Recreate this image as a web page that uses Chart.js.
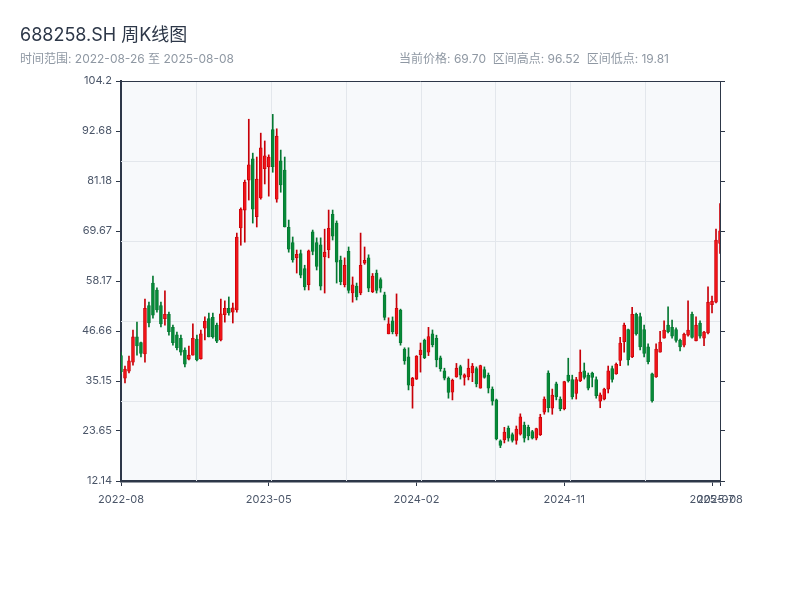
<!DOCTYPE html>
<html>
<head>
<meta charset="utf-8">
<script src="https://cdn.jsdelivr.net/npm/chart.js@4.4.1/dist/chart.umd.min.js"></script>
<style>
  html, body { margin: 0; padding: 0; background: #fff; }
</style>
</head>
<body>
<canvas id="kline" width="800" height="600"></canvas>

<script>
// weekly bars, holiday weeks with no trading left out
const dates = [
  '2022-08-26','2022-09-02','2022-09-09','2022-09-16','2022-09-23','2022-09-30','2022-10-14','2022-10-21','2022-10-28',
  '2022-11-04','2022-11-11','2022-11-18','2022-11-25','2022-12-02','2022-12-09','2022-12-16','2022-12-23','2022-12-30',
  '2023-01-06','2023-01-13','2023-01-20','2023-02-03','2023-02-10','2023-02-17','2023-02-24',
  '2023-03-03','2023-03-10','2023-03-17','2023-03-24','2023-03-31','2023-04-07','2023-04-14','2023-04-21','2023-04-28',
  '2023-05-05','2023-05-12','2023-05-19','2023-05-26','2023-06-02','2023-06-09','2023-06-16','2023-06-23','2023-06-30',
  '2023-07-07','2023-07-14','2023-07-21','2023-07-28','2023-08-04','2023-08-11','2023-08-18','2023-08-25',
  '2023-09-01','2023-09-08','2023-09-15','2023-09-22','2023-09-29','2023-10-13','2023-10-20','2023-10-27',
  '2023-11-03','2023-11-10','2023-11-17','2023-11-24','2023-12-01','2023-12-08','2023-12-15','2023-12-22','2023-12-29',
  '2024-01-05','2024-01-12','2024-01-19','2024-01-26','2024-02-02','2024-02-09','2024-02-23',
  '2024-03-01','2024-03-08','2024-03-15','2024-03-22','2024-03-29','2024-04-05','2024-04-12','2024-04-19','2024-04-26',
  '2024-05-03','2024-05-10','2024-05-17','2024-05-24','2024-05-31','2024-06-07','2024-06-14','2024-06-21','2024-06-28',
  '2024-07-05','2024-07-12','2024-07-19','2024-07-26','2024-08-02','2024-08-09','2024-08-16','2024-08-23','2024-08-30',
  '2024-09-06','2024-09-13','2024-09-20','2024-09-27','2024-10-04','2024-10-11','2024-10-18','2024-10-25',
  '2024-11-01','2024-11-08','2024-11-15','2024-11-22','2024-11-29','2024-12-06','2024-12-13','2024-12-20','2024-12-27',
  '2025-01-03','2025-01-10','2025-01-17','2025-01-24','2025-01-31','2025-02-07','2025-02-14','2025-02-21','2025-02-28',
  '2025-03-07','2025-03-14','2025-03-21','2025-03-28','2025-04-04','2025-04-11','2025-04-18','2025-04-25',
  '2025-05-02','2025-05-09','2025-05-16','2025-05-23','2025-05-30','2025-06-06','2025-06-13','2025-06-20','2025-06-27',
  '2025-07-04','2025-07-11','2025-07-18','2025-07-25','2025-08-01','2025-08-08'
];

const opens = [
  41.0, 35.8, 37.4, 39.5, 45.3, 44.0, 41.4, 52.5, 57.7, 56.1,
  52.5, 49.5, 50.5, 47.5, 45.8, 45.0, 42.3, 40.2, 41.1, 44.8,
  40.3, 47.3, 49.5, 49.8, 48.0, 44.6, 50.4, 51.9, 51.0, 51.5,
  70.4, 74.5, 81.4, 86.3, 73.0, 77.3, 84.0, 84.4, 93.0, 77.0,
  85.8, 83.7, 70.5, 67.0, 63.5, 64.5, 61.0, 57.3, 69.5, 67.0,
  66.5, 63.7, 65.3, 73.5, 71.5, 63.0, 57.3, 65.0, 55.4, 57.0,
  55.4, 62.3, 63.5, 55.7, 60.0, 58.5, 55.0, 46.0, 49.0, 46.0,
  51.5, 42.5, 40.7, 34.0, 35.6, 41.2, 44.5, 41.8, 46.0, 45.0,
  40.5, 37.5, 35.8, 32.6, 36.1, 38.5, 36.0, 36.1, 37.0, 38.0,
  33.5, 37.8, 36.5, 33.3, 30.8, 21.4, 21.6, 24.3, 22.8, 21.5,
  22.9, 25.0, 24.5, 23.5, 22.0, 22.8, 28.0, 37.0, 28.9, 34.5,
  31.0, 28.8, 36.5, 35.5, 32.3, 35.2, 37.5, 36.5, 37.0, 35.5,
  30.5, 31.0, 33.3, 38.0, 36.8, 39.9, 44.2, 47.0, 40.7, 50.5,
  50.0, 47.0, 43.0, 36.8, 36.1, 41.8, 45.0, 48.0, 47.5, 47.0,
  44.5, 43.4, 45.7, 50.5, 44.4, 48.5, 45.0, 46.2, 52.7, 53.3,
  66.8
];
const highs = [
  41.8, 38.6, 40.9, 46.9, 48.7, 44.1, 54.0, 53.3, 59.3, 56.6,
  53.3, 55.9, 51.0, 48.0, 46.4, 45.7, 42.8, 43.2, 48.3, 45.7,
  46.9, 49.9, 50.8, 50.8, 48.5, 54.0, 53.6, 54.5, 53.1, 69.2,
  75.0, 81.4, 95.4, 87.6, 86.7, 92.2, 90.4, 87.2, 96.52, 93.2,
  88.3, 86.7, 72.2, 68.3, 65.3, 65.3, 61.8, 65.3, 69.9, 68.1,
  68.1, 70.1, 74.5, 74.5, 72.0, 63.9, 63.5, 66.0, 59.1, 57.7,
  69.2, 66.0, 64.2, 59.9, 60.7, 58.9, 55.6, 49.7, 49.9, 55.2,
  51.7, 42.8, 42.8, 36.0, 41.0, 43.9, 44.8, 47.5, 46.9, 45.7,
  40.9, 38.1, 36.1, 35.6, 39.2, 38.8, 36.8, 40.2, 39.2, 38.4,
  38.8, 38.4, 37.0, 33.8, 31.0, 21.6, 24.5, 24.8, 23.2, 24.8,
  27.6, 25.7, 25.0, 23.8, 24.3, 27.5, 31.5, 37.5, 33.3, 34.9,
  31.5, 35.1, 40.4, 36.5, 36.0, 42.3, 39.3, 37.0, 37.2, 36.1,
  32.4, 33.5, 38.6, 38.6, 39.3, 45.2, 48.5, 47.1, 52.1, 50.8,
  50.8, 48.0, 43.7, 37.0, 43.7, 46.6, 49.0, 52.2, 49.2, 47.4,
  44.8, 46.2, 53.6, 51.0, 49.9, 49.0, 46.6, 56.8, 54.7, 70.1,
  76.0
];
const lows = [
  36.8, 34.7, 37.0, 38.8, 41.1, 40.7, 39.5, 47.6, 49.6, 51.0,
  47.6, 48.0, 45.7, 43.4, 42.3, 41.1, 38.4, 40.0, 41.1, 39.8,
  40.2, 44.6, 45.3, 45.0, 44.0, 44.4, 48.7, 50.3, 48.5, 51.0,
  66.4, 67.1, 76.8, 71.5, 70.6, 77.0, 80.5, 77.7, 83.2, 76.3,
  78.6, 70.6, 64.8, 62.5, 60.0, 58.9, 56.1, 56.1, 64.2, 60.7,
  56.1, 55.4, 63.5, 67.6, 57.7, 57.3, 56.8, 55.4, 53.3, 53.8,
  55.0, 62.0, 55.7, 55.5, 55.4, 55.6, 49.2, 46.0, 46.0, 45.5,
  43.4, 39.0, 33.1, 28.9, 35.5, 37.2, 40.3, 41.0, 43.0, 38.4,
  37.4, 35.4, 31.2, 30.8, 36.0, 35.6, 34.2, 35.4, 35.0, 33.8,
  33.5, 35.8, 32.4, 29.6, 21.6, 19.81, 20.9, 21.3, 21.1, 20.6,
  22.7, 21.1, 21.6, 21.8, 21.6, 22.6, 27.5, 28.0, 27.5, 30.8,
  28.3, 28.5, 34.9, 31.0, 31.0, 35.0, 35.6, 33.1, 33.8, 31.2,
  29.0, 30.8, 32.4, 34.9, 36.7, 38.7, 41.8, 38.8, 40.5, 45.7,
  42.3, 40.7, 39.1, 30.3, 36.0, 41.8, 45.0, 46.2, 45.0, 44.1,
  42.1, 43.0, 45.5, 45.0, 44.4, 45.0, 43.3, 46.0, 50.8, 53.1,
  64.5
];
const closes = [
  37.3, 37.9, 39.8, 45.3, 43.2, 41.5, 51.9, 48.5, 50.3, 51.5,
  48.3, 50.5, 46.5, 44.0, 42.8, 41.8, 39.0, 41.1, 45.0, 40.0,
  46.0, 48.9, 45.3, 45.3, 44.3, 50.6, 51.9, 50.8, 52.0, 68.3,
  74.7, 80.9, 84.9, 74.7, 81.6, 88.8, 87.0, 86.7, 84.5, 91.5,
  80.3, 70.6, 65.5, 63.0, 64.3, 59.5, 56.8, 65.1, 65.0, 61.5,
  57.0, 64.8, 70.3, 68.5, 62.5, 58.0, 61.8, 56.0, 57.3, 54.5,
  61.8, 62.9, 56.5, 59.3, 56.0, 56.5, 49.8, 48.3, 46.5, 51.9,
  44.0, 39.8, 34.2, 35.8, 40.9, 42.3, 40.5, 45.4, 43.5, 40.0,
  38.0, 35.8, 32.5, 35.3, 38.1, 36.5, 36.6, 38.1, 38.6, 34.5,
  38.7, 36.0, 33.5, 30.5, 21.8, 20.3, 23.4, 22.0, 21.5, 24.1,
  26.9, 22.0, 22.5, 22.0, 24.2, 26.8, 31.0, 29.0, 31.9, 31.5,
  28.8, 35.0, 35.2, 31.5, 35.5, 37.2, 36.0, 33.5, 36.0, 31.8,
  32.0, 33.3, 37.5, 35.5, 39.0, 43.9, 48.0, 40.0, 50.5, 46.0,
  43.0, 41.5, 39.6, 30.6, 42.5, 44.1, 46.9, 46.5, 45.5, 44.5,
  43.0, 45.9, 46.9, 45.2, 48.0, 45.5, 46.4, 53.3, 53.5, 67.6,
  69.70
];

const yTickLabels = ['12.14', '23.65', '35.15', '46.66', '58.17', '69.67', '81.18', '92.68', '104.2'];

const titleText = '688258.SH 周K线图';
const rangeText = '时间范围: 2022-08-26 至 2025-08-08';
const statsText = '当前价格: 69.70  区间高点: 96.52  区间低点: 19.81';

const axisColor = '#2d3748';
const upFill = '#f01418', upLine = '#c80008';
const downFill = '#078a38', downLine = '#057832';

const isUp = closes.map((c, i) => c >= opens[i]);

// a tick label every 37 bars, plus the last bar
const xTickIdx = [];
for (let i = 0; i < dates.length; i += 37) xTickIdx.push(i);
xTickIdx.push(dates.length - 1);

Chart.defaults.font.family = "Inter, 'Noto Sans CJK SC', sans-serif";

const plotDecor = {
  id: 'plotDecor',
  beforeDraw(chart) {
    const { ctx, chartArea: a } = chart;
    ctx.save();
    ctx.fillStyle = '#f7f9fb';
    ctx.fillRect(a.left, a.top, a.right - a.left, a.bottom - a.top);
    ctx.restore();
  },
  beforeDatasetsDraw(chart) {
    const { ctx, chartArea: a } = chart;
    const w = a.right - a.left, h = a.bottom - a.top;
    ctx.save();
    ctx.strokeStyle = '#e3e7ec';
    ctx.lineWidth = 1;
    ctx.beginPath();
    for (let k = 1; k < 8; k++) {
      const x = Math.round(a.left + k * w / 8) + 0.5;
      ctx.moveTo(x, a.top); ctx.lineTo(x, a.bottom);
    }
    for (let k = 1; k < 5; k++) {
      const y = Math.round(a.top + k * h / 5) + 0.5;
      ctx.moveTo(a.left, y); ctx.lineTo(a.right, y);
    }
    ctx.stroke();
    ctx.restore();
  },
  afterDraw(chart) {
    const { ctx, chartArea: a } = chart;
    ctx.save();
    ctx.strokeStyle = axisColor;
    ctx.lineWidth = 1;
    ctx.beginPath();
    ctx.moveTo(a.left, a.top + 0.5); ctx.lineTo(a.right, a.top + 0.5);
    ctx.stroke();

    ctx.textBaseline = 'alphabetic';
    ctx.fillStyle = axisColor;
    ctx.font = "18px Inter, 'Noto Sans CJK SC', sans-serif";
    ctx.textAlign = 'left';
    ctx.fillText(titleText, 20, 41);
    ctx.fillStyle = '#8f98a3';
    ctx.font = "12px Inter, 'Noto Sans CJK SC', sans-serif";
    ctx.fillText(rangeText, 20, 63);
    ctx.textAlign = 'right';
    ctx.fillText(statsText, 669, 63);
    ctx.restore();
  }
};

new Chart(document.getElementById('kline'), {
  type: 'bar',
  data: {
    labels: dates,
    datasets: [
      {
        label: 'wick',
        data: lows.map((l, i) => [l, highs[i]]),
        barThickness: 1,
        grouped: false,
        order: 2,
        backgroundColor: c => isUp[c.dataIndex] ? upLine : downLine
      },
      {
        label: 'body',
        data: opens.map((o, i) => [o, closes[i]]),
        barThickness: 3,
        minBarLength: 1,
        grouped: false,
        order: 1,
        borderWidth: 0.8,
        borderSkipped: false,
        backgroundColor: c => isUp[c.dataIndex] ? upFill : downFill,
        borderColor: c => isUp[c.dataIndex] ? upLine : downLine
      }
    ]
  },
  options: {
    responsive: false,
    animation: false,
    layout: { padding: { top: 81, left: 0, right: 0, bottom: 0 } },
    plugins: {
      legend: { display: false },
      tooltip: { enabled: false }
    },
    scales: {
      x: {
        type: 'category',
        offset: false,
        afterBuildTicks: s => { s.ticks = xTickIdx.map(v => ({ value: v })); },
        afterFit: s => { s.height = 119; },
        grid: { offset: false, drawOnChartArea: false, color: axisColor, tickLength: 5 },
        border: { color: axisColor, width: 2.5 },
        ticks: {
          autoSkip: false, maxRotation: 0, minRotation: 0,
          color: '#4a5568', font: { size: 11 }, padding: 7,
          callback: v => dates[v].slice(0, 7)
        }
      },
      y: {
        type: 'linear',
        position: 'left',
        min: 12.14,
        max: 104.2,
        afterBuildTicks: s => { s.ticks = yTickLabels.map(t => ({ value: parseFloat(t) })); },
        afterFit: s => { s.width = 121; },
        grid: { drawOnChartArea: false, color: axisColor, tickLength: 5 },
        border: { color: axisColor, width: 2 },
        ticks: {
          color: '#4a5568', font: { size: 11 }, padding: 4,
          callback: (v, i) => yTickLabels[i]
        }
      },
      yRight: {
        type: 'linear',
        position: 'right',
        min: 12.14,
        max: 104.2,
        afterBuildTicks: s => { s.ticks = yTickLabels.map(t => ({ value: parseFloat(t) })); },
        afterFit: s => { s.width = 80; },
        grid: { drawOnChartArea: false, color: axisColor, tickLength: 5 },
        border: { color: axisColor, width: 1 },
        ticks: { display: false }
      }
    }
  },
  plugins: [plotDecor]
});
</script>
</body>
</html>
